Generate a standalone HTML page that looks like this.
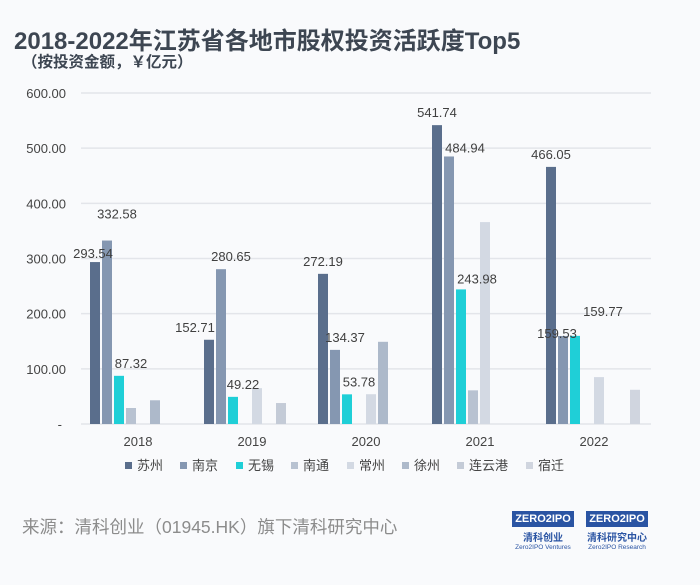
<!DOCTYPE html>
<html><head><meta charset="utf-8"><style>
body{margin:0;width:700px;height:585px;background:#f9fafc;font-family:"Liberation Sans","Noto Sans CJK SC",sans-serif;overflow:hidden;position:relative}
.t{position:absolute;left:14px;top:21px;font-size:24px;font-weight:bold;color:#3d4652;white-space:nowrap}
.s{position:absolute;left:22px;top:50px;font-size:15.5px;font-weight:bold;color:#3d4652}
.f{position:absolute;left:22px;top:514px;font-size:17.5px;color:#8c8c8c}
.logo{position:absolute;top:511px;width:62px}
.lb{background:#2a54a3;color:#fff;font-size:11px;font-weight:bold;text-align:center;height:14px;line-height:14px;border:1px solid #2a54a3}
.lt{font-size:10px;color:#2a54a3;font-weight:bold;text-align:center;margin-top:2px}
.le{font-size:6.5px;color:#2a54a3;text-align:center}
</style></head><body>
<div class="t">2018-2022年江苏省各地市股权投资活跃度Top5</div>
<div class="s">（按投资金额，￥亿元）</div>
<svg id="c" width="700" height="500" style="position:absolute;left:0;top:0"></svg>
<div class="f">来源：清科创业（01945.HK）旗下清科研究中心</div>
<div class="logo" style="left:512px"><div class="lb">ZERO2IPO</div><div class="lt">清科创业</div><div class="le">Zero2IPO Ventures</div></div>
<div class="logo" style="left:586px"><div class="lb">ZERO2IPO</div><div class="lt">清科研究中心</div><div class="le">Zero2IPO Research</div></div>
<script>
const categories=["2018","2019","2020","2021","2022"];
const seriesNames=["苏州","南京","无锡","南通","常州","徐州","连云港","宿迁"];
const suzhou=[293.54,152.71,272.19,541.74,466.05];
const nanjing=[332.58,280.65,134.37,484.94,159.53];
const wuxi=[87.32,49.22,53.78,243.98,159.77];
const nantong=[29,0,0,61,0];
const changzhou=[0,65,54,366,85];
const xuzhou=[43,0,149,0,0];
const lianyungang=[0,38,0,0,0];
const suqian=[0,0,0,0,62];
const yTicks=[0,100,200,300,400,500,600];
const yTickLabels=["-","100.00","200.00","300.00","400.00","500.00","600.00"];
const labelled=[suzhou,nanjing,wuxi];
const series=[suzhou,nanjing,wuxi,nantong,changzhou,xuzhou,lianyungang,suqian];
const colors=["#5a6e8c","#8597b1","#1fcfd7","#b8c2d1","#d3d9e3","#adb9ca","#c4cbd7","#d0d5df"];
const NS="http://www.w3.org/2000/svg",svg=document.getElementById('c');
const x0=81,x1=651,y0=424,yTop=93,yMax=600;
const y=v=>y0-(v/yMax)*(y0-yTop);
const gw=(x1-x0)/categories.length;
const bx=(g,s)=>x0+gw*g+gw/2-48+s*12;
function mk(t,a,txt){const e=document.createElementNS(NS,t);for(const k in a)e.setAttribute(k,a[k]);if(txt!==undefined)e.textContent=txt;svg.appendChild(e);return e;}
yTicks.forEach((v,i)=>{
 const l=mk('line',{x1:x0,x2:x1,y1:y(v),y2:y(v),stroke:'#e3e5ea','stroke-width':1.5});
 
 
 const t=mk('text',{x:i==0?62:66,y:y(v)+5,'text-anchor':'end','font-size':13,fill:'#444'},yTickLabels[i]);
 
 
});
categories.forEach((c,g)=>{
 const t=mk('text',{x:x0+gw*g+gw/2,y:446,'text-anchor':'middle','font-size':13,fill:'#444'},c);
 
 
 series.forEach((arr,s)=>{
  const v=arr[g];if(!v)return;
  const r=mk('rect',{x:bx(g,s),y:y(v),width:10,height:y0-y(v),fill:colors[s]});
  
  
 });
 labelled.forEach((arr,s)=>{
  const v=arr[g];let lx=bx(g,s)+5,ly=y(v)-8;
  if(g==0&&s==0){lx-=2;ly+=4;}
  if(g==0&&s==1){lx+=10;ly-=14;}
  if(g==0&&s==2){lx+=12;}
  if(g==1&&s==0){lx-=14;}
  if(g==1&&s==1){lx+=10;}
  if(g==1&&s==2){lx+=10;}
  if(g==2&&s==1){lx+=10;}
  if(g==2&&s==2){lx+=12;}
  if(g==3&&s==1){lx+=16;ly+=4;}
  if(g==3&&s==2){lx+=16;ly+=2;}
  if(g==4&&s==1){lx-=6;ly+=10;}
  if(g==4&&s==2){lx+=28;ly-=12;}
  const t=mk('text',{x:lx,y:ly,'text-anchor':'middle','font-size':13,fill:'#404040'},v.toFixed(2));
  
  
 });
});
seriesNames.forEach((n,i)=>{
 const lx=[125,180,236,291,347,402,457,526][i];
 const r=mk('rect',{x:lx,y:462,width:7,height:7,fill:colors[i]});
 
 
 const t=mk('text',{x:lx+12,y:470,'font-size':13,fill:'#444'},n);
 
 
});
</script>
</body></html>
